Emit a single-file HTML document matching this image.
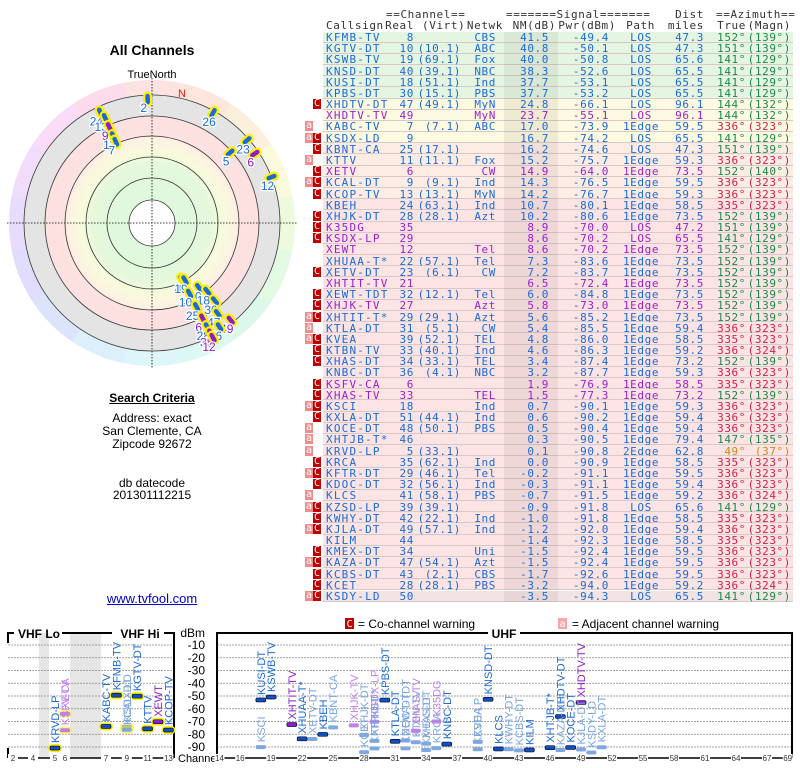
<!DOCTYPE html>
<html><head><meta charset="utf-8">
<style>
body{margin:0;background:#fff;width:800px;height:768px;overflow:hidden;position:relative;font-family:"Liberation Sans",sans-serif}
.t{position:absolute;font-family:"DejaVu Sans Mono","Liberation Mono",monospace;font-size:11px;letter-spacing:0.6px;white-space:pre;line-height:11px}
.ctr{position:absolute;text-align:center;width:304px;left:0;font-size:12px;color:#000}
.badge{position:absolute;width:8px;height:10px;font-family:"DejaVu Sans Mono",monospace;font-size:10px;line-height:10px;text-align:center;color:#fff}
</style></head><body>
<div class="ctr" style="top:42px;font-weight:bold;font-size:14px">All Channels</div>
<svg id="polar" width="304" height="380" style="position:absolute;left:0;top:0"></svg>
<div class="ctr" style="top:391px;font-weight:bold;text-decoration:underline">Search Criteria</div>
<div class="ctr" style="top:411px">Address: exact</div>
<div class="ctr" style="top:424px">San Clemente, CA</div>
<div class="ctr" style="top:437px">Zipcode 92672</div>
<div class="ctr" style="top:476px">db datecode</div>
<div class="ctr" style="top:488px">201301112215</div>
<div class="ctr" style="top:591px;color:#00c;text-decoration:underline;font-size:13px">www.tvfool.com</div>
<div id="table"></div>
<svg id="spec" width="800" height="150" style="position:absolute;left:0;top:618px"></svg>
<script>
const calls=["KFMB-TV","KGTV-DT","KSWB-TV","KNSD-DT","KUSI-DT","KPBS-DT","XHDTV-DT","XHDTV-TV","KABC-TV","KSDX-LD","KBNT-CA","KTTV","XETV","KCAL-DT","KCOP-TV","KBEH","XHJK-DT","K35DG","KSDX-LP","XEWT","XHUAA-T*","XETV-DT","XHTIT-TV","XEWT-TDT","XHJK-TV","XHTIT-T*","KTLA-DT","KVEA","KTBN-TV","XHAS-DT","KNBC-DT","KSFV-CA","XHAS-TV","KSCI","KXLA-DT","KOCE-DT","XHTJB-T*","KRVD-LP","KRCA","KFTR-DT","KDOC-DT","KLCS","KZSD-LP","KWHY-DT","KJLA-DT","KILM","KMEX-DT","KAZA-DT","KCBS-DT","KCET","KSDY-LD"];
const realCh=[8,10,19,40,18,30,47,49,7,9,25,11,6,9,13,24,28,35,29,12,22,23,21,32,27,29,31,39,33,34,36,6,33,18,51,48,46,5,35,29,32,41,39,42,49,44,34,47,43,28,50];
const virtCh=["","10.1","69.1","39.1","51.1","15.1","49.1","","7.1","","17.1","11.1","","9.1","13.1","63.1","28.1","","","","57.1","6.1","","12.1","","29.1","5.1","52.1","40.1","33.1","4.1","","","","44.1","50.1","","33.1","62.1","46.1","56.1","58.1","39.1","22.1","57.1","","","54.1","2.1","28.1",""];
const netwk=["CBS","ABC","Fox","NBC","Ind","PBS","MyN","MyN","ABC","","","Fox","CW","Ind","MyN","Ind","Azt","","","Tel","Tel","CW","","Tel","Azt","Azt","CW","TEL","Ind","TEL","NBC","","TEL","Ind","Ind","PBS","","","Ind","Tel","Ind","PBS","","Ind","Ind","","Uni","Azt","CBS","PBS",""];
const nmDb=[41.5,40.8,40.0,38.3,37.7,37.7,24.8,23.7,17.0,16.7,16.2,15.2,14.9,14.3,14.2,10.7,10.2,8.9,8.6,8.6,7.3,7.2,6.5,6.0,5.8,5.6,5.4,4.8,4.6,3.4,3.2,1.9,1.5,0.7,0.6,0.5,0.3,0.1,-0.0,-0.2,-0.3,-0.7,-0.9,-1.0,-1.2,-1.4,-1.5,-1.5,-1.7,-3.2,-3.5];
const pwrDbm=[-49.4,-50.1,-50.8,-52.6,-53.1,-53.2,-66.1,-55.1,-73.9,-74.2,-74.6,-75.7,-64.0,-76.5,-76.7,-80.1,-80.6,-70.0,-70.2,-70.2,-83.6,-83.7,-72.4,-84.8,-73.0,-85.2,-85.5,-86.0,-86.3,-87.4,-87.7,-76.9,-77.3,-90.1,-90.2,-90.4,-90.5,-90.8,-90.9,-91.1,-91.1,-91.5,-91.8,-91.8,-92.0,-92.3,-92.4,-92.4,-92.6,-94.0,-94.3];
const pathT=["LOS","LOS","LOS","LOS","LOS","LOS","LOS","LOS","1Edge","LOS","LOS","1Edge","1Edge","1Edge","1Edge","1Edge","1Edge","LOS","LOS","1Edge","1Edge","1Edge","1Edge","1Edge","1Edge","1Edge","1Edge","1Edge","1Edge","1Edge","1Edge","1Edge","1Edge","1Edge","1Edge","1Edge","1Edge","2Edge","1Edge","1Edge","1Edge","1Edge","LOS","1Edge","1Edge","1Edge","1Edge","1Edge","1Edge","1Edge","LOS"];
const distMi=[47.3,47.3,65.6,65.5,65.5,65.5,96.1,96.1,59.5,65.5,47.3,59.3,73.5,59.5,59.3,58.5,73.5,47.2,65.5,73.5,73.5,73.5,73.5,73.5,73.5,73.5,59.4,58.5,59.2,73.2,59.3,58.5,73.2,59.3,59.4,59.4,79.4,62.8,58.5,59.5,59.4,59.2,65.6,58.5,59.4,58.5,59.5,59.5,59.5,59.2,65.5];
const azTrue=[152,151,141,141,141,141,144,144,336,141,151,336,152,336,336,335,152,151,141,152,152,152,152,152,152,152,336,335,336,152,336,335,152,336,336,336,147,49,335,336,336,336,141,335,336,335,336,336,336,336,141];
const azMagn=[139,139,129,129,129,129,132,132,323,129,139,323,140,323,323,323,139,139,129,139,139,139,139,139,139,139,323,323,324,139,323,323,139,323,323,323,135,37,323,323,323,324,129,323,323,323,323,323,323,324,129];
const warnFlags=["","","","","","","C","","a","aC","C","a","C","aC","C","","C","C","C","","","C","","C","C","aC","a","aC","C","C","","C","C","aC","C","a","a","a","C","aC","C","a","aC","C","aC","","C","aC","C","C","aC"];
const purpleRows=[7,12,17,18,19,22,24,31,32];
// polar plot data
const polarAz=[358,29,335,336,336,336,336,49,48,56,69,152,150,144,152,141,152,141,152,144,152,141,152,147,152];
const polarNm=[2.6,1.3,3.9,8.4,14.8,21.3,25.2,1.3,14.8,2.6,0,41.3,40,31,31,25.8,21.3,18,12.9,10.3,6.5,1.9,1.9,2.6,-1.3];
const polarLbl=["2","26","24","13","9","11","7","23","5","6","12","8","19","40","10","18","25","30","6","47","28","49","35","46","12"];
const polarPurple=[0,0,0,0,1,0,0,0,0,1,0,0,0,0,0,0,0,0,1,0,0,1,1,0,1];
// spectrum ticks
const dbmTicks=[-10,-20,-30,-40,-50,-60,-70,-80,-90];
const vhfTicks=[2,4,5,6,7,9,11,13];
const uhfTicks=[14,16,19,22,25,28,31,34,37,40,43,46,49,52,55,58,61,64,67,69];

const tbl=document.getElementById('table');
function txt(s,left,top,color,align,w){const d=document.createElement('div');d.className='t';d.textContent=s;d.style.top=top+'px';d.style.color=color;
 if(align==='r'){d.style.left=(left-w)+'px';d.style.width=w+'px';d.style.textAlign='right';}
 else if(align==='c'){d.style.left=(left-w/2)+'px';d.style.width=w+'px';d.style.textAlign='center';}
 else d.style.left=left+'px';
 tbl.appendChild(d);return d;}
const hdrK='#333';
let h;
h=txt('==Channel==',386,9,hdrK);
h=txt('=======Signal=======',506,9,hdrK);
h=txt('Dist',704,9,hdrK,'r',40);
h=txt('==Azimuth==',716,9,hdrK);
const hdr2=[['Callsign',326,'l'],['Real',414,'r'],['(Virt)',422,'l'],['Netwk',503,'r'],['NM(dB)',556,'r'],['Pwr(dBm)',616,'r'],['Path',655,'r'],['miles',704,'r'],['True',746,'r'],['(Magn)',791,'r']];
hdr2.forEach(a=>{const e=txt(a[0],a[1],20,hdrK,a[2],60);});
const rowH=11.18, row0=31.5;
function rowBg(i){return i<6?'#e4f6e2':i<10?'#fcfae0':i<15?'#fdece4':i==50?'#f2e4e4':'#fce4e4';}
for(let i=0;i<calls.length;i++){
 const y=row0+i*rowH;
 const bg=document.createElement('div');
 
 
 bg.style.cssText=`position:absolute;left:323px;width:470px;top:${y}px;height:${rowH-1}px;background:${rowBg(i)};border-bottom:1px solid #d8c8c8`;
 tbl.appendChild(bg);
 const band=document.createElement('div');
 
 
 band.style.cssText=`position:absolute;left:504px;width:54px;top:${y}px;height:${rowH}px;background:rgba(90,60,60,0.08)`;
 tbl.appendChild(band);
 const purple=purpleRows.includes(i);
 const c=purple?'#9a1ed0':'#1a6ad8';
 const ty=y+0.5;
 let e;
 e=txt(calls[i],326,ty,c);e.style.letterSpacing='1.2px';
 e=txt(String(realCh[i]),414,ty,c,'r',30);
 if(virtCh[i]){e=txt('('+virtCh[i]+')',461,ty,c,'r',50);}
 if(netwk[i]){e=txt(netwk[i],496,ty,c,'r',30);}
 e=txt(nmDb[i].toFixed(1),549,ty,c,'r',44);
 e=txt(pwrDbm[i].toFixed(1),609,ty,c,'r',50);
 e=txt(pathT[i],641,ty,c,'c',44);
 e=txt(distMi[i].toFixed(1),704,ty,c,'r',40);
 const ac=azTrue[i]>300?'#d0204a':azTrue[i]<100?'#d08a10':'#1a8a4a';
 e=txt(azTrue[i]+'°',746,ty,ac,'r',40);
 e=txt('('+azMagn[i]+'°)',791,ty,ac,'r',44);
 const f=warnFlags[i];
 if(f.includes('a')){const b=document.createElement('div');b.className='badge';b.textContent='a';b.style.left='305px';b.style.top=(y+0.5)+'px';b.style.background='#f08c8c';
  
  
  tbl.appendChild(b);}
 if(f.includes('C')){const b=document.createElement('div');b.className='badge';b.textContent='C';b.style.left='313px';b.style.top=(y+0.5)+'px';b.style.background='#c00000';
  
  
  tbl.appendChild(b);}
}

// ---- polar
const NS='http://www.w3.org/2000/svg';
function el(p,tag,attrs){const e=document.createElementNS(NS,tag);for(const k in attrs)e.setAttribute(k,attrs[k]);p.appendChild(e);return e;}
const P=document.getElementById('polar');
const cx=152,cy=223;
const defs=el(P,'defs',{});
const rg=el(defs,'radialGradient',{id:'rg',cx:cx,cy:cy,r:107,gradientUnits:'userSpaceOnUse'});
[[0.2,'#def8de'],[0.55,'#e4f8dc'],[0.66,'#f8fbdc'],[0.8,'#fdf0e2'],[0.81,'#fde2e2'],[1,'#fde0e0']].forEach(s=>el(rg,'stop',{offset:s[0],'stop-color':s[1]}));
const secCols=['#fde2e2','#fde6dc','#fcf0dc','#fafadc','#eefadc','#e2fae2','#dcf8ea','#dcf8f4','#dcf6fa','#dcf0fc','#dce4fc','#e0dcfc','#e8dcfc','#f2dcfc','#fadcf8','#fcdcec'];
function pol(az,r){const a=az*Math.PI/180;return [cx+r*Math.sin(a),cy-r*Math.cos(a)];}
secCols.forEach((c,k)=>{const a0=k*22.5-11.25,a1=a0+22.5;const p0=pol(a0,143),p1=pol(a1,143);
 const s=el(P,'path',{d:`M${cx},${cy}L${p0[0]},${p0[1]}A143,143 0 0 1 ${p1[0]},${p1[1]}Z`,fill:c});
 
 });
el(P,'circle',{cx:cx,cy:cy,r:128,fill:'#e4e4e4'});
el(P,'circle',{cx:cx,cy:cy,r:107,fill:'url(#rg)'});
el(P,'circle',{cx:cx,cy:cy,r:23,fill:'#fff'});
[23,45,66,87,107,128].forEach(r=>{const c=el(P,'circle',{cx:cx,cy:cy,r:r,fill:'none',stroke:'#333','stroke-width':0.8});
 
 });
el(P,'line',{x1:cx-145,y1:cy,x2:cx+145,y2:cy,stroke:'#000','stroke-dasharray':'1.5,1.5','stroke-width':0.8});
el(P,'line',{x1:cx,y1:cy-145,x2:cx,y2:cy+145,stroke:'#000','stroke-dasharray':'1.5,1.5','stroke-width':0.8});
let tn=el(P,'text',{x:cx,y:78,'text-anchor':'middle','font-size':11,'font-family':'Liberation Sans, sans-serif',fill:'#000'});tn.textContent='TrueNorth';


let nl=el(P,'text',{x:182,y:97,'text-anchor':'middle','font-size':11,'font-family':'Liberation Sans, sans-serif',fill:'#e02020'});nl.textContent='N';


function rScale(nm){return 128-nm*1.55;}
for(let i=0;i<polarAz.length;i++){
 const p=pol(polarAz[i],rScale(polarNm[i]));
 const a=polarAz[i];
 const col=polarPurple[i]?'#8a1ec8':'#1a6ad8';
 const dx=Math.sin(a*Math.PI/180)*3,dy=-Math.cos(a*Math.PI/180)*3;
 const halo=el(P,'line',{x1:p[0]-dx,y1:p[1]-dy,x2:p[0]+dx,y2:p[1]+dy,stroke:'#ffee00','stroke-width':9,'stroke-linecap':'round'});
 
 
 const m=el(P,'line',{x1:p[0]-dx,y1:p[1]-dy,x2:p[0]+dx,y2:p[1]+dy,stroke:col,'stroke-width':4.5,'stroke-linecap':'round'});
 
 
 const t=el(P,'text',{x:p[0]-4,y:p[1]+13,'text-anchor':'middle','font-size':12,'font-family':'Liberation Sans, sans-serif',fill:col,stroke:'#fff','stroke-width':2.5,'paint-order':'stroke'});
 t.textContent=polarLbl[i];
 
 
}

// ---- spectrum
const S=document.getElementById('spec');
const oy=618;
function yS(v){return 645-oy+(-10-v)*1.275;}
function chX(ch){if(ch<=4)return 13+(ch-2)*10;if(ch<=6)return 55+(ch-5)*10;if(ch<=13)return 106+(ch-7)*10.4;return 219.5+(ch-14)*10.33;}
const ff='Liberation Sans, sans-serif';
let lg=el(S,'rect',{x:345,y:0,width:9,height:11,fill:'#c00000'});
let lt=el(S,'text',{x:349.5,y:9,'text-anchor':'middle','font-size':10,fill:'#fff','font-family':'DejaVu Sans Mono, monospace'});lt.textContent='C';
lt=el(S,'text',{x:358,y:10,'font-size':12,fill:'#000','font-family':ff});lt.textContent='= Co-channel warning';
lg=el(S,'rect',{x:558,y:0,width:9,height:11,fill:'#f8a8a8'});
lt=el(S,'text',{x:562.5,y:9,'text-anchor':'middle','font-size':10,fill:'#fff','font-family':'DejaVu Sans Mono, monospace'});lt.textContent='a';
lt=el(S,'text',{x:572,y:10,'font-size':12,fill:'#000','font-family':ff});lt.textContent='= Adjacent channel warning';
el(S,'rect',{x:39,y:15,width:10,height:125,fill:'#e6e6e6'});
el(S,'rect',{x:70,y:15,width:31,height:125,fill:'#e6e6e6'});
dbmTicks.forEach(v=>{const y=yS(v);
 el(S,'line',{x1:8,x2:173,y1:y,y2:y,stroke:'#888','stroke-dasharray':'2,1','stroke-width':0.7});
 el(S,'line',{x1:217,x2:791,y1:y,y2:y,stroke:'#888','stroke-dasharray':'2,1','stroke-width':0.7});
 const t=el(S,'text',{x:205,y:y+4,'text-anchor':'end','font-size':12,'font-family':ff,fill:'#000'});t.textContent=String(v);
 
 });
let du=el(S,'text',{x:205,y:19,'text-anchor':'end','font-size':12,'font-family':ff});du.textContent='dBm';
const bk={stroke:'#000','stroke-width':2,fill:'none'};
el(S,'path',Object.assign({d:'M8,25V15H14M62,15H112M164,15H174V140'},bk));
el(S,'path',Object.assign({d:'M8,140V130'},bk));
el(S,'path',Object.assign({d:'M217,140V15H488M520,15H792V140'},bk));
el(S,'line',{x1:8,x2:174,y1:140,y2:140,stroke:'#000','stroke-width':1.5});
el(S,'line',{x1:217,x2:792,y1:140,y2:140,stroke:'#000','stroke-width':1.5});
[['VHF Lo',39,'vhf-lo-title'],['VHF Hi',140,'vhf-hi-title'],['UHF',504,'uhf-title']].forEach(a=>{const t=el(S,'text',{x:a[1],y:20,'text-anchor':'middle','font-size':12,'font-weight':'bold','font-family':ff});t.textContent=a[0];
 
 });
let chl=el(S,'text',{x:178,y:144,'font-size':11,'font-family':ff});chl.textContent='Channel';
vhfTicks.concat(uhfTicks).forEach(ch=>{const x=chX(ch);
 el(S,'rect',{x:x-5,y:136,width:10,height:8,fill:'#fff'});
 const t=el(S,'text',{x:x,y:143,'text-anchor':'middle','font-size':8,'font-family':ff,fill:'#333'});t.textContent=String(ch);
 
 });
for(let i=0;i<calls.length;i++){
 const ch=realCh[i],x=chX(ch),y=yS(pwrDbm[i]);
 const purple=purpleRows.includes(i);
 const light=warnFlags[i].includes('C')&&i!==14&&i!==6;
 const col=purple?(light?'#c080e8':'#8a1ec8'):(light?'#80a8e0':'#1050b8');
 if(ch<=13){const hh=el(S,'rect',{x:x-7,y:y-4,width:14,height:8,rx:4,fill:'#ffee00',opacity:light?0.5:1});
  
  }
 const m=el(S,'rect',{x:x-5,y:y-2,width:10,height:4,rx:1.5,fill:col,stroke:light?'none':'#003','stroke-width':0.6});
 
 
 const t=el(S,'text',{x:x+4,y:y-5,transform:`rotate(-90 ${x+4} ${y-5})`,'font-size':11,'font-family':ff,fill:light?(purple?'#c080e8':'#7aa4e0'):(purple?'#8a1ec8':'#1a6ad8')});
 t.textContent=calls[i];
 
 
}
</script>
</body></html>
